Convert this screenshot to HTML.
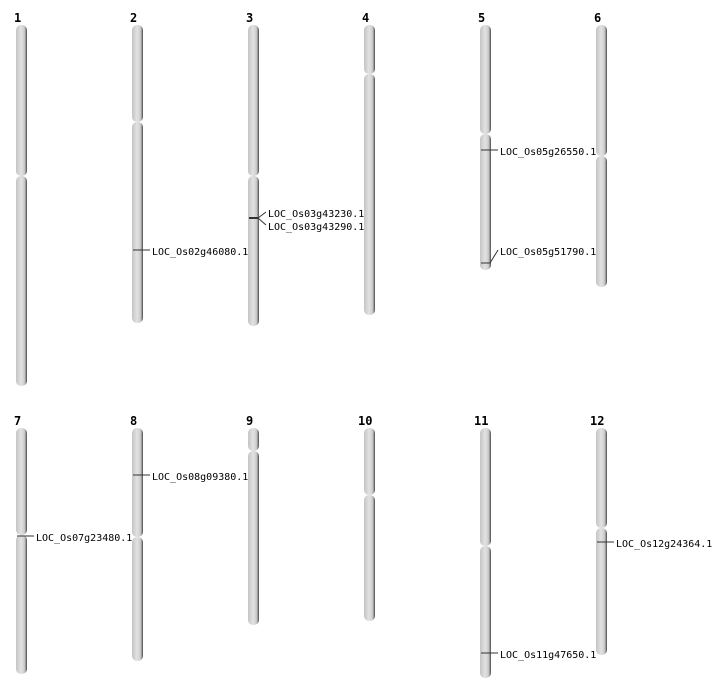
<!DOCTYPE html>
<html><head><meta charset="utf-8"><style>
html,body{margin:0;padding:0;background:#fff;}
svg{display:block;}
text{font-family:"DejaVu Sans Mono","Liberation Mono",monospace;}
.n{font-size:12px;font-weight:bold;fill:#000;}
.l{font-size:10px;fill:#000;}
</style></head><body>
<svg width="712" height="700" viewBox="0 0 712 700" xmlns="http://www.w3.org/2000/svg">
<defs>
<linearGradient id="g" x1="0" x2="1" y1="0" y2="0">
<stop offset="0" stop-color="#c4c4c4"/>
<stop offset="0.45" stop-color="#e2e2e2"/>
<stop offset="0.75" stop-color="#cfcfcf"/>
<stop offset="0.88" stop-color="#999"/>
<stop offset="1" stop-color="#444"/>
</linearGradient>
</defs>
<g fill="url(#g)">
<!-- row 1 -->
<rect x="16" y="25" width="11" height="151" rx="5"/><rect x="16" y="176" width="11" height="210" rx="5"/>
<rect x="132" y="25" width="11" height="97" rx="5"/><rect x="132" y="122" width="11" height="201" rx="5"/>
<rect x="248" y="25" width="11" height="151" rx="5"/><rect x="248" y="176" width="11" height="150" rx="5"/>
<rect x="364" y="25" width="11" height="49" rx="5"/><rect x="364" y="74" width="11" height="241" rx="5"/>
<rect x="480" y="25" width="11" height="109" rx="5"/><rect x="480" y="134" width="11" height="136" rx="5"/>
<rect x="596" y="25" width="11" height="131" rx="5"/><rect x="596" y="156" width="11" height="131" rx="5"/>
<!-- row 2 -->
<rect x="16" y="428" width="11" height="107" rx="5"/><rect x="16" y="535" width="11" height="139" rx="5"/>
<rect x="132" y="428" width="11" height="109" rx="5"/><rect x="132" y="537" width="11" height="124" rx="5"/>
<rect x="248" y="428" width="11" height="23" rx="5"/><rect x="248" y="451" width="11" height="174" rx="5"/>
<rect x="364" y="428" width="11" height="67" rx="5"/><rect x="364" y="495" width="11" height="126" rx="5"/>
<rect x="480" y="428" width="11" height="118" rx="5"/><rect x="480" y="546" width="11" height="132" rx="5"/>
<rect x="596" y="428" width="11" height="100" rx="5"/><rect x="596" y="528" width="11" height="127" rx="5"/>
</g>
<g class="n">
<text class="n" x="14" y="22">1</text><text class="n" x="130" y="22">2</text><text class="n" x="246" y="22">3</text>
<text class="n" x="362" y="22">4</text><text class="n" x="478" y="22">5</text><text class="n" x="594" y="22">6</text>
<text class="n" x="14" y="425">7</text><text class="n" x="130" y="425">8</text><text class="n" x="246" y="425">9</text>
<text class="n" x="358" y="425">10</text><text class="n" x="474" y="425">11</text><text class="n" x="590" y="425">12</text>
</g>
<g stroke="#333" stroke-width="1" fill="none">
<line x1="133" y1="250" x2="150" y2="250"/>
<line x1="249" y1="218" x2="258" y2="218" stroke-width="2"/>
<polyline points="258,218 266,212"/><polyline points="258,218 266,225"/>
<line x1="481" y1="150" x2="498" y2="150"/>
<line x1="481" y1="263" x2="490" y2="263"/><polyline points="490,263 498,250"/>
<line x1="17" y1="536" x2="34" y2="536"/>
<line x1="133" y1="475" x2="150" y2="475"/>
<line x1="481" y1="653" x2="498" y2="653"/>
<line x1="597" y1="542" x2="614" y2="542"/>
</g>
<g class="l">
<text class="l" x="152" y="255">LOC_Os02g46080.1</text>
<text class="l" x="268" y="217">LOC_Os03g43230.1</text>
<text class="l" x="268" y="230">LOC_Os03g43290.1</text>
<text class="l" x="500" y="155">LOC_Os05g26550.1</text>
<text class="l" x="500" y="255">LOC_Os05g51790.1</text>
<text class="l" x="36" y="541">LOC_Os07g23480.1</text>
<text class="l" x="152" y="480">LOC_Os08g09380.1</text>
<text class="l" x="500" y="658">LOC_Os11g47650.1</text>
<text class="l" x="616" y="547">LOC_Os12g24364.1</text>
</g>
</svg>
</body></html>
